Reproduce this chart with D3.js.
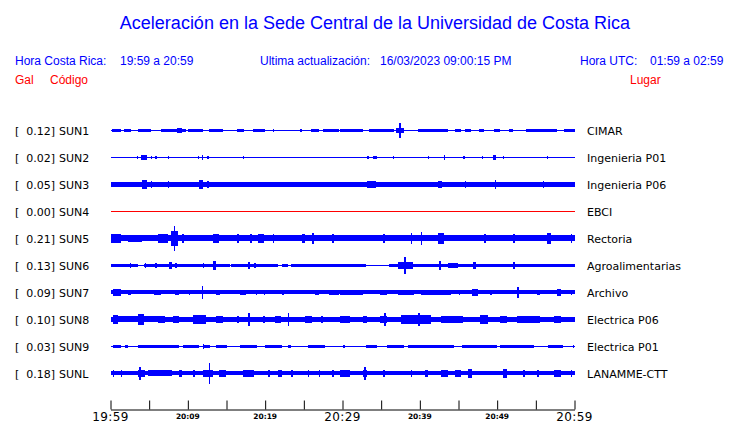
<!DOCTYPE html>
<html><head><meta charset="utf-8">
<script src="https://cdn.jsdelivr.net/npm/d3@7"></script>
<style>
html,body{margin:0;padding:0;background:#fff;}
svg{display:block;}
</style></head>
<body>
<svg id="chart" width="740" height="423"></svg>
<script>
// ---- data ----
const stations = ["SUN1","SUN2","SUN3","SUN4","SUN5","SUN6","SUN7","SUN8","SUN9","SUNL"];
const peaks = ["0.12","0.02","0.05","0.00","0.21","0.13","0.09","0.10","0.03","0.18"];
const places = ["CIMAR","Ingenieria P01","Ingenieria P06","EBCI","Rectoria","Agroalimentarias","Archivo","Electrica P06","Electrica P01","LANAMME-CTT"];
const traceColors = ["blue","blue","blue","red","blue","blue","blue","blue","blue","blue"];
const startTime = "2023-03-16T19:59";
const endTime = "2023-03-16T20:59";
const tickMinutes = [0,5,10,15,20,25,30,35,40,45,50,55,60];
const tickLabels = ["19:59","","20:09","","20:19","","20:29","","20:39","","20:49","","20:59"];
const bigLabels = ["19:59","20:29","20:59"];
// bursts: [start minute, end minute, half amplitude]
const sun1 = [[0.2,1.3,1.5],[1.7,2.6,1.5],[3.6,5.2,1.5],[6.5,9.7,1.5],[8.6,9.2,2.5],[10.0,11.9,1.5],[12.7,14.5,1.5],[16.4,17.2,1.5],[18.4,20.0,1.5],[21.0,21.2,1.5],[24.5,24.7,1.5],[25.9,26.9,1.5],[27.5,29.5,1.5],[29.7,32.7,1.5],[33.4,36.6,1.5],[36.9,37.9,2.5],[37.3,37.5,7],[39.7,43.6,1.5],[44.6,45.3,1.5],[45.9,46.6,1.5],[47.6,48.3,1.5],[49.6,50.4,1.5],[51.5,52.1,1.5],[53.7,57.8,1.5],[58.6,60,1.5]];
const sun2 = [[3.4,3.5,1],[3.9,4.7,2],[5.2,5.3,1.5],[5.8,5.9,1.5],[7.4,7.5,1.5],[11.3,11.4,1.5],[11.8,12.0,2],[12.5,12.6,1.5],[17.1,17.2,1],[33.2,33.3,1.5],[33.9,34.4,1.5],[36.5,36.6,1.5],[41.0,41.1,1],[43.1,43.3,2],[45.6,45.7,1],[48.0,48.1,1],[49.5,49.9,2],[50.7,50.8,1.5],[56.4,56.5,1]];
const sun3 = [[0,60,2.2],[4.1,4.7,4],[5.2,5.3,3],[7.4,7.5,3],[11.4,12.0,4],[12.5,12.6,3],[33.2,34.3,3],[42.4,42.9,3],[45.8,45.9,3.5],[49.7,49.8,4.5],[55.9,56.0,3]];
const sun4 = [];
const sun5 = [[0,60,2.7],[0,1.3,4],[2.3,4.1,3.5],[6.2,7.4,4],[7.8,8.7,7],[8.2,8.4,12],[9.3,9.4,4],[13.2,14.0,4],[16.4,16.5,4],[18.1,18.2,4],[19.1,19.8,4],[21.0,21.1,4],[24.8,25.2,4],[26.1,26.2,5],[28.7,28.8,4],[35.3,35.4,4],[38.8,38.9,5],[40.1,40.2,6],[42.4,43.1,5],[48.3,48.6,4],[52.1,52.2,4],[56.5,56.9,5],[59.5,59.6,4]];
const sun6 = [[0,3.6,1.5],[4.3,15.4,1.5],[15.6,21.7,1.5],[22.2,23.0,1.5],[23.3,33.0,1.5],[36.0,60,1.5],[2.5,2.6,2.5],[4.4,4.5,2.5],[5.8,5.9,2.5],[7.5,8.0,3.5],[8.4,8.5,2.5],[11.9,12.0,2.5],[13.3,13.7,4],[17.8,17.9,3],[18.6,18.7,2.5],[37.2,39.1,3.5],[38.0,38.2,8],[42.5,42.6,4],[43.6,44.9,2.5],[46.9,47.2,3.5],[52.1,52.2,3]];
const sun7 = [[0,60,1.6],[0.3,1.3,3.5],[2.2,2.6,2.5],[5.6,6.5,2.5],[8.4,8.8,2.5],[10.1,10.2,2.5],[11.8,12.0,6],[13.6,14.2,2.5],[16.8,17.5,2.5],[18.8,18.9,2.5],[19.8,19.9,2.5],[22.2,22.3,2.5],[26.5,26.9,2.5],[28.2,29.5,2.5],[29.7,32.7,2.5],[34.9,35.8,2.5],[37.2,39.2,2.5],[40.1,44.0,2.5],[45.0,45.1,2.5],[46.8,47.5,3],[49.1,49.2,2.5],[52.6,52.8,5],[55.2,55.6,2.5],[57.8,58.2,3.5],[59.5,59.6,2.5]];
const sun8 = [[0,60,2],[0.3,1.0,4.5],[1.0,3.5,2.8],[3.6,4.3,5.5],[4.3,6.2,2.8],[6.2,7.1,3.2],[8.1,8.8,3.2],[10.7,12.3,4],[13.6,14.6,3.2],[16.4,16.5,3.5],[17.8,17.9,6],[19.7,20.0,3.2],[21.3,22.0,3.2],[22.9,23.0,6],[25.2,26.1,3.2],[27.2,27.5,3.2],[29.7,31.0,3.2],[32.7,33.2,3.2],[34.9,35.8,3.2],[35.4,35.5,6],[37.5,41.4,4],[39.8,39.9,6],[42.7,45.6,3.2],[47.8,48.8,4],[50.4,51.3,3.5],[52.6,55.6,3.2],[57.3,58.2,3.2]];
const sun9 = [[0.3,1.3,1.5],[1.9,2.2,1.5],[3.5,8.8,1.5],[9.4,11.4,1.5],[12.0,12.9,1.5],[11.9,12.0,2.5],[13.6,15.1,1.5],[16.8,19.0,1.5],[20.0,22.2,1.5],[22.9,23.3,1.5],[25.5,27.8,1.5],[30.1,30.2,1.5],[33.0,34.5,1.5],[35.8,37.9,1.5],[38.5,44.4,1.5],[45.5,50.0,1.5],[50.4,54.7,1.5],[56.6,58.5,1.5],[59.8,59.9,1.5]];
const sunl = [[0,60,1.8],[0.3,0.4,3],[1.3,1.4,3],[3.5,4.5,3.5],[3.7,3.8,6],[4.9,8.0,2.8],[8.8,9.3,3],[10.7,10.8,3],[12.0,13.2,3.5],[12.7,12.9,10],[14.0,14.9,3],[17.1,18.5,3],[20.4,20.5,3],[21.7,22.2,3],[23.4,23.5,3.5],[25.5,25.6,3],[26.9,27.0,3],[28.7,28.8,3],[29.7,31.0,3],[32.7,33.2,3.5],[32.8,32.9,6],[35.3,35.4,3],[38.8,38.9,3],[40.7,41.1,3],[42.7,43.6,3],[44.6,45.3,3],[46.2,46.8,4],[50.7,51.3,4],[53.4,53.5,3],[55.2,55.3,3],[57.3,58.2,3],[59.5,59.6,3]];
const bursts = [sun1,sun2,sun3,sun4,sun5,sun6,sun7,sun8,sun9,sunl];

// ---- drawing ----
const svg = d3.select("#chart");
const t0 = new Date(startTime), t1 = new Date(endTime);
const addMin = m => new Date(t0.getTime() + m*60000);
const x = d3.scaleTime().domain([t0, t1]).range([110.5, 574.5]);
const y = d3.scalePoint().domain(stations).range([130, 373]);
const amp = d3.scaleLinear().domain([0, 13.5]).range([0, 13.5]);

const blue = "#0000ff", red = "#ff0000";
const sans = "'Liberation Sans', Arial, Helvetica, sans-serif";
const dv = "'DejaVu Sans', Verdana, sans-serif";

svg.append("text").attr("x", 375).attr("y", 29).attr("text-anchor","middle")
  .attr("font-family", sans).attr("font-size", 18).attr("fill", blue)
  .text("Aceleración en la Sede Central de la Universidad de Costa Rica");

const hdr = [["Hora Costa Rica:",15,65,blue],["19:59 a 20:59",120,65,blue],["Ultima actualización:",260,65,blue],
  ["16/03/2023 09:00:15 PM",380,65,blue],["Hora UTC:",580,65,blue],["01:59 a 02:59",650,65,blue],
  ["Gal",15,84,red],["Código",50,84,red],["Lugar",630,84,red]];
svg.selectAll("text.hdr").data(hdr).join("text").attr("class","hdr")
  .attr("x", d=>d[1]).attr("y", d=>d[2]).attr("font-family", sans).attr("font-size", 12)
  .attr("fill", d=>d[3]).text(d=>d[0]);

const rows = svg.selectAll("g.row").data(stations).join("g").attr("class","row");
rows.each(function(s, i){
  const g = d3.select(this);
  const cy = y(s);
  const col = traceColors[i] === "red" ? red : blue;
  g.append("text").attr("x",15).attr("y",cy+4.5).attr("font-family",dv).attr("font-size",11).text("[");
  g.append("text").attr("x",55).attr("y",cy+4.5).attr("text-anchor","end").attr("font-family",dv).attr("font-size",11).text(peaks[i]+"]");
  g.append("text").attr("x",59).attr("y",cy+4.5).attr("font-family",dv).attr("font-size",11).text(s);
  g.append("text").attr("x",587).attr("y",cy+4.5).attr("font-family",dv).attr("font-size",11).text(places[i]);
  g.append("rect").attr("x", x(t0)).attr("y", cy-0.5).attr("width", x(t1)-x(t0)).attr("height", 1.4)
    .attr("fill", col).attr("shape-rendering","crispEdges");
  g.selectAll("rect.b").data(bursts[i]).join("rect").attr("class","b")
    .attr("x", d => x(addMin(d[0])))
    .attr("width", d => Math.max(1.5, x(addMin(d[1])) - x(addMin(d[0]))))
    .attr("y", d => cy - amp(d[2]))
    .attr("height", d => 2*amp(d[2]) + 0.5)
    .attr("fill", col).attr("shape-rendering","crispEdges");
});

const tickDates = tickMinutes.map(addMin);
const axis = d3.axisTop(x).tickValues(tickDates).tickSize(9).tickSizeOuter(0).tickFormat("");
const ax = svg.append("g").attr("transform","translate(0,409.5)").call(axis);
ax.select(".domain").attr("stroke","#000");
ax.selectAll(".tick line").attr("stroke","#000");
svg.selectAll("text.tl").data(tickDates.map((d,i)=>({d, lab: tickLabels[i]})).filter(o=>o.lab))
  .join("text").attr("class","tl")
  .attr("x", o => x(o.d)).attr("text-anchor","middle")
  .attr("y", o => bigLabels.includes(o.lab) ? 420.5 : 418.5)
  .attr("font-family", dv)
  .attr("font-size", o => bigLabels.includes(o.lab) ? 12 : 7.5)
  .attr("font-weight", o => bigLabels.includes(o.lab) ? "normal" : "bold")
  .attr("letter-spacing", o => bigLabels.includes(o.lab) ? 0.4 : 0)
  .attr("fill","#000")
  .text(o => o.lab);
</script>
</body></html>
